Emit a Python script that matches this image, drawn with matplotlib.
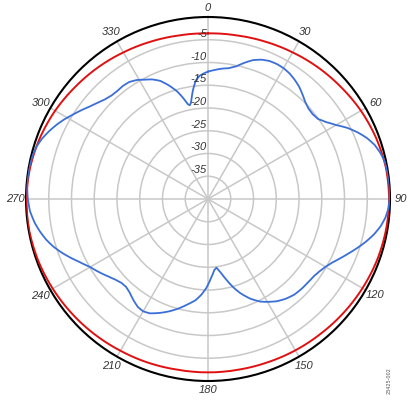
import numpy as np
import matplotlib
matplotlib.use("Agg")
import matplotlib.pyplot as plt

# ---- data (degrees, dB) ----
blue_angles = [0, 3, 6, 9, 12, 15, 18, 21, 24, 27, 30, 33, 36, 39, 42, 45, 48, 51, 54,
               57, 60, 63, 66, 69, 72, 75, 78, 82, 86, 90, 93, 96, 99, 102, 105, 108,
               111, 114, 117, 120, 123, 126, 130, 134, 138, 142, 146, 150, 153, 157,
               161, 164, 167, 170, 172, 173, 175, 178, 181, 184, 187, 191, 195, 199,
               203, 207, 210, 213, 216, 220, 223, 226, 229, 232, 236, 240, 244, 247,
               250, 253, 256, 259, 262, 266, 270, 275, 280, 284, 287, 290, 293, 296,
               299, 302, 305, 308, 311, 314, 317, 320, 323, 326, 329, 332, 335, 338,
               341, 344, 346, 348, 349, 350, 352, 354, 356, 358, 360]
blue_db = [-12.0, -11.6, -11.2, -10.9, -10.2, -9.0, -7.9, -7.2, -6.8, -6.7, -6.8, -7.1,
           -7.6, -8.2, -9.0, -9.8, -10.3, -10.4, -10.1, -9.0, -7.5, -5.6, -4.0, -2.6,
           -1.5, -0.8, -0.3, -0.1, 0.0, -0.1, -0.3, -0.8, -1.6, -2.7, -4.0, -5.4, -6.8,
           -8.1, -9.3, -10.2, -10.8, -11.2, -11.4, -11.5, -11.7, -12.2, -12.9, -13.9,
           -14.7, -16.2, -18.1, -19.8, -21.7, -23.5, -24.4, -24.8, -24.3, -22.5, -20.5,
           -18.9, -17.6, -16.4, -15.1, -13.9, -12.8, -11.8, -11.5, -11.7, -12.3, -13.2,
           -13.6, -13.5, -13.0, -12.3, -11.2, -10.1, -8.5, -7.1, -5.7, -4.4, -3.3, -2.4,
           -1.6, -0.8, -0.4, -0.1, -0.1, -0.3, -0.6, -1.2, -2.0, -2.9, -3.9, -5.0, -6.0,
           -7.0, -7.8, -8.5, -8.9, -9.0, -8.9, -9.0, -9.5, -10.3, -11.0, -12.0, -13.6,
           -15.4, -17.0, -18.7, -19.0, -18.5, -16.0, -13.9, -12.9, -12.4, -12.0]

red_angles = [0, 10, 20, 30, 40, 50, 60, 70, 80, 90, 100, 110, 120, 130, 140, 150, 160,
              170, 180, 190, 200, 210, 220, 230, 240, 250, 260, 270, 280, 290, 300, 310,
              320, 330, 340, 350, 360]
red_db = [-3.6, -3.5, -3.2, -2.8, -2.3, -1.8, -1.2, -0.7, -0.3, -0.2, -0.3, -0.5, -0.8,
          -1.1, -1.4, -1.6, -1.8, -1.9, -1.9, -1.9, -1.7, -1.5, -1.2, -0.9, -0.6, -0.3,
          -0.1, -0.1, -0.3, -0.7, -1.2, -1.8, -2.3, -2.8, -3.2, -3.5, -3.6]

theta_ticks = [0, 30, 60, 90, 120, 150, 180, 210, 240, 270, 300, 330]
r_ticks = [-35, -30, -25, -20, -15, -10, -5]
r_min, r_max = -40, 0

W, H = 417, 400
cx, cy, R = 208, 199, 182

fig = plt.figure(figsize=(W / 100, H / 100), dpi=100)
ax = fig.add_axes([(cx - R) / W, (H - cy - R) / H, 2 * R / W, 2 * R / H],
                  projection="polar")
ax.set_theta_zero_location("N")
ax.set_theta_direction(-1)
ax.set_ylim(r_min, r_max)
ax.set_thetagrids(theta_ticks, labels=[])
ax.set_rgrids(r_ticks, labels=[])
ax.grid(True, color="#c8c8c8", lw=1.1)
ax.spines["polar"].set_color("black")
ax.spines["polar"].set_linewidth(1.5)
ax.set_facecolor("white")

red_line, = ax.plot(np.deg2rad(red_angles), red_db, color="#e01010", lw=1.4, zorder=3)
blue_line, = ax.plot(np.deg2rad(blue_angles), blue_db, color="#3a6fd8", lw=1.3,
                     zorder=4, solid_joinstyle="round")
# draw segments as curves in polar space (library's own path interpolation)
for ln in (red_line, blue_line):
    ln.get_path()._interpolation_steps = 30

fp = dict(family=["Liberation Sans", "DejaVu Sans"], style="italic", fontsize=8,
          color="#333333")
for t in theta_ticks:
    a = np.deg2rad(t)
    lab_r = (191 if t in (0, 180) else 193) / R
    ax.text(0.5 + 0.5 * lab_r * np.sin(a), 0.5 + 0.5 * lab_r * np.cos(a), str(t),
            transform=ax.transAxes, ha="center", va="center", **fp)

for r in r_ticks:
    frac = (r - r_min) / (r_max - r_min)
    ax.text(0.5 - 0.5 * 1 / R, 0.5 + 0.5 * frac + 6 / (2 * R), str(r),
            transform=ax.transAxes, ha="right", va="center", zorder=5, **fp)

fig.text(389 / W, 1 - 381 / H, "23425-002", rotation=90, fontsize=3.5,
         color="#555555", ha="center", va="center")

fig.savefig("out.png", dpi=100)
